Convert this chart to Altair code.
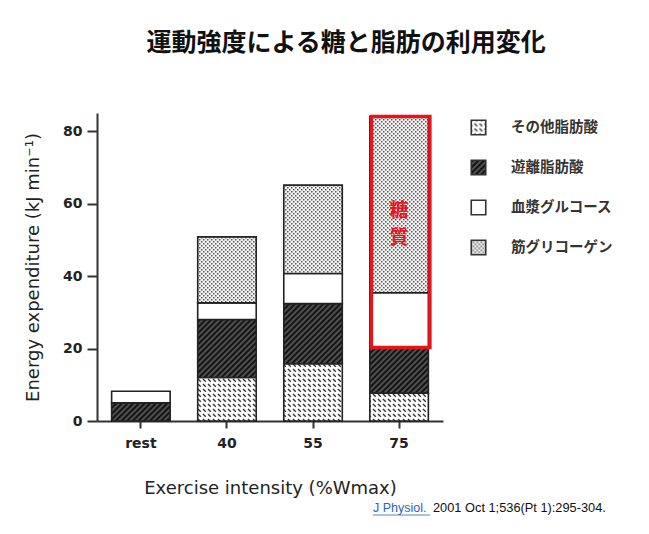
import altair as alt
import pandas as pd
import jinja2

categories = ["rest", "40", "55", "75"]
series = ["その他脂肪酸", "遊離脂肪酸", "血漿グルコース", "筋グリコーゲン"]
other_fa = [0.0, 12.0, 15.8, 7.7]
free_fa = [5.0, 16.0, 16.6, 12.6]
plasma_glucose = [3.2, 4.6, 8.3, 15.1]
muscle_glycogen = [0.0, 18.2, 24.4, 48.6]

rows = []
for i, c in enumerate(categories):
    for k, (s, vals) in enumerate(zip(series, [other_fa, free_fa, plasma_glucose, muscle_glycogen])):
        if vals[i] > 0:
            rows.append({"cat": c, "series": s, "order": k, "value": vals[i]})
df = pd.DataFrame(rows)

i75 = categories.index("75")
carb_lo = other_fa[i75] + free_fa[i75]
carb_hi = carb_lo + plasma_glucose[i75] + muscle_glycogen[i75]
box = pd.DataFrame([{"cat": "75", "lo": carb_lo, "hi": carb_hi}])
label_rows = pd.DataFrame([{"cat": "75", "ch": "糖", "pos": 58.0}, {"cat": "75", "ch": "質", "pos": 50.6}])

fills = ["url(#pOther)", "url(#pFFA)", "#ffffff", "url(#pGly)"]

xenc = alt.X("cat:N", sort=categories,
             scale=alt.Scale(domain=categories, paddingInner=0.32, paddingOuter=0.17),
             axis=alt.Axis(title="Exercise intensity  (%Wmax)", labelAngle=0, tickSize=7,
                           labelPadding=8, titlePadding=29))
yscale = alt.Scale(domain=[0, 85], nice=False)

bars = alt.Chart(df).mark_bar(stroke="#222222", strokeWidth=1.6).encode(
    x=xenc,
    y=alt.Y("value:Q", stack="zero", scale=yscale,
            axis=alt.Axis(title="Energy expenditure  (kJ min⁻¹)", values=[0, 20, 40, 60, 80],
                          tickSize=10, labelPadding=5, titlePadding=20)),
    fill=alt.Fill("series:N", sort=series,
                  scale=alt.Scale(domain=series, range=fills),
                  legend=alt.Legend(title=None, orient="none", legendX=373, legendY=6,
                                    symbolType="square", symbolSize=210,
                                    symbolStrokeColor="#333333", symbolStrokeWidth=1.6,
                                    rowPadding=19, labelOffset=24,
                                    labelFont="Noto Sans CJK JP", labelFontSize=14.5,
                                    labelFontWeight="bold", labelColor="#333333")),
    order=alt.Order("order:Q", sort="ascending"),
)

redbox = alt.Chart(box).mark_rect(fillOpacity=0, stroke="#e8141b", strokeWidth=3.5, xOffset=1.5).encode(
    x=alt.X("cat:N", sort=categories), y=alt.Y("lo:Q", scale=yscale), y2="hi:Q"
)

redtext = alt.Chart(label_rows).mark_text(color="#e8141b", font="Noto Sans CJK JP", fontSize=19,
                                          fontWeight="bold", baseline="middle").encode(
    x=alt.X("cat:N", sort=categories), y=alt.Y("pos:Q", scale=yscale), text="ch:N"
)

cite = pd.DataFrame([{"a": "J Physiol.", "b": "2001 Oct 1;536(Pt 1):295-304."}])
cite1 = alt.Chart(cite).mark_text(align="left", baseline="middle", color="#2a62c9",
                                  font="Liberation Sans", fontSize=12.5).encode(
    text="a:N", x=alt.value(276), y=alt.value(395))
cite_line = alt.Chart(cite).mark_rule(color="#2a62c9", strokeWidth=0.8).encode(
    x=alt.value(276), x2=alt.value(333), y=alt.value(402))
cite2 = alt.Chart(cite).mark_text(align="left", baseline="middle", color="#111111",
                                  font="Liberation Sans", fontSize=12.8).encode(
    text="b:N", x=alt.value(336), y=alt.value(395))

chart = alt.layer(bars, redbox, redtext, cite1, cite_line, cite2).properties(
    width=346, height=308,
    title=alt.TitleParams("運動強度による糖と脂肪の利用変化", font="Noto Sans CJK JP", fontSize=25,
                          fontWeight="bold", color="#111111", anchor="middle", frame="group",
                          dx=76, offset=57),
    autosize=alt.AutoSizeParams(type="none"),
    padding={"left": 89, "top": 105, "right": 195, "bottom": 100},
).configure_view(stroke=None).configure_axis(
    domainColor="#333333", domainWidth=2, tickColor="#333333", tickWidth=2,
    grid=False, labelFont="DejaVu Sans", labelFontSize=14, labelFontWeight="bold",
    labelColor="#222222", titleFont="DejaVu Sans", titleFontSize=18, titleFontWeight="normal",
    titleColor="#222222",
)

TEMPLATE = jinja2.Template("""<!DOCTYPE html>
<html>
<head>
  <style>
    #{{ output_div }}.vega-embed { width: 100%; display: flex; }
    #{{ output_div }}.vega-embed details,
    #{{ output_div }}.vega-embed details summary { position: relative; }
  </style>
  <script type="text/javascript" src="{{ base_url }}/vega@{{ vega_version }}"></script>
  <script type="text/javascript" src="{{ base_url }}/vega-lite@{{ vegalite_version }}"></script>
  <script type="text/javascript" src="{{ base_url }}/vega-embed@{{ vegaembed_version }}"></script>
</head>
<body>
  <svg width="0" height="0" style="position:absolute;left:0;top:0">
    <defs>
      <pattern id="pGly" patternUnits="userSpaceOnUse" width="4" height="4">
        <rect width="4" height="4" fill="#f2f2f2"/>
        <rect x="0" y="0" width="1.5" height="1.5" fill="#555555"/>
        <rect x="2" y="2" width="1.5" height="1.5" fill="#555555"/>
      </pattern>
      <pattern id="pFFA" patternUnits="userSpaceOnUse" width="4" height="4" patternTransform="rotate(45)">
        <rect width="4" height="4" fill="#141414"/>
        <line x1="1" y1="0" x2="1" y2="4" stroke="#9a9a9a" stroke-width="0.9"/>
      </pattern>
      <pattern id="pOther" patternUnits="userSpaceOnUse" width="10" height="10">
        <rect width="10" height="10" fill="#ffffff"/>
        <line x1="1" y1="1" x2="3.8" y2="3.8" stroke="#333333" stroke-width="1.4"/>
        <line x1="6" y1="6" x2="8.8" y2="8.8" stroke="#333333" stroke-width="1.4"/>
        <line x1="6" y1="1" x2="8.8" y2="3.8" stroke="#333333" stroke-width="1.4"/>
        <line x1="1" y1="6" x2="3.8" y2="8.8" stroke="#333333" stroke-width="1.4"/>
      </pattern>
    </defs>
  </svg>
  <div id="{{ output_div }}"></div>
  <script>
    (function(vegaEmbed) {
      var spec = {{ spec }};
      var embedOpt = {{ embed_options }};
      function showError(el, error){
          el.innerHTML = ('<div style="color:red;"><p>JavaScript Error: ' + error.message + '</p></div>');
          throw error;
      }
      const el = document.getElementById('{{ output_div }}');
      vegaEmbed("#{{ output_div }}", spec, embedOpt).catch(error => showError(el, error));
    })(vegaEmbed);
  </script>
</body>
</html>
""")

chart.save("out.html", embed_options={"renderer": "svg", "actions": False}, template=TEMPLATE)
